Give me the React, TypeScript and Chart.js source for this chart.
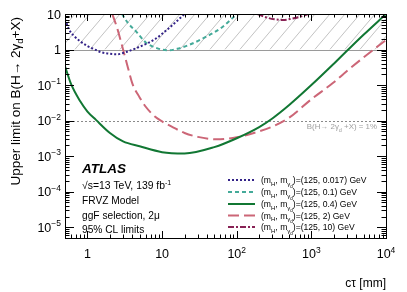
import React, { useEffect, useRef } from "react";
import { Chart, registerables } from "chart.js";

Chart.register(...registerables);

const FONT = '"Liberation Sans", Arial, Helvetica, sans-serif';

// ---- data (cτ in mm, upper limit on B) ----
const ctau017 = [0.5, 0.57, 0.65, 0.8, 1, 1.2, 1.5, 2, 2.5, 3.3, 5, 8, 12, 16, 20];
const limit017 = [7, 3.6, 2.5, 1.7, 1.25, 1.05, 0.85, 0.76, 0.74, 0.85, 1.2, 1.95, 3.8, 6.5, 10];

const ctau01 = [2.9, 3.5, 4.5, 6, 8, 12, 16, 23, 39, 65, 100];
const limit01 = [10, 5.5, 3.2, 1.6, 1.15, 0.95, 1.05, 1.35, 2.3, 4.4, 10];

const ctau04 = [0.5, 0.6, 0.8, 1, 1.3, 2, 3, 5, 10, 20, 50, 100, 200, 300, 500, 1000, 2000, 3000, 5000, 10000];
const limit04 = [0.34, 0.11, 0.035, 0.018, 0.0105, 0.0045, 0.0026, 0.0019, 0.0013, 0.0012, 0.0018, 0.0032, 0.0066, 0.0115, 0.027, 0.1, 0.4, 0.92, 2.6, 10];

const ctau2 = [2.15, 2.5, 3, 3.5, 4, 5, 6, 8, 10, 14, 20, 30, 54, 100, 200, 300, 500, 1000, 2000, 3000, 5000, 10000];
const limit2 = [10, 4, 1, 0.3, 0.11, 0.045, 0.025, 0.013, 0.0095, 0.0065, 0.0045, 0.0035, 0.003, 0.0034, 0.005, 0.0068, 0.012, 0.04, 0.12, 0.25, 0.6, 1.85];

const ctau10 = [190, 250, 320, 420, 550, 700, 900];
const limit10 = [10, 8, 7.1, 6.8, 7.4, 8.3, 10];

const darkPhotonMasses = ["0.017", "0.1", "0.4", "2", "10"];
const seriesColors = ["#332288", "#44AA99", "#117733", "#CC6677", "#882255"];
const seriesDashes: number[][] = [[2, 2], [4, 3], [], [11, 5], [6, 2, 2, 2]];

const xTickValues = [1, 10, 100, 1000, 10000];
const xTickBase = ["1", "10", "10", "10", "10"];
const xTickExp = ["", "", "2", "3", "4"];
const yTickValues = [10, 1, 0.1, 0.01, 0.001, 1e-4, 1e-5];
const yTickBase = ["10", "1", "10", "10", "10", "10", "10"];
const yTickExp = ["", "", "\u22121", "\u22122", "\u22123", "\u22124", "\u22125"];

const xMin = 0.5, xMax = 10000, yMin = 5e-6, yMax = 10;
const hatchLow = 1, hatchHigh = 10, refLine = 0.01;

type Seg = { t: string; s: number; dy?: number; st?: string };
const segFont = (g: Seg) => `${g.st ?? ""} ${g.s}px ${FONT}`;
function richW(ctx: CanvasRenderingContext2D, segs: Seg[]) {
  let w = 0;
  for (const g of segs) { ctx.font = segFont(g); w += ctx.measureText(g.t).width; }
  return w;
}
function drawRich(ctx: CanvasRenderingContext2D, segs: Seg[], x: number, y: number, align = "left") {
  const w = richW(ctx, segs);
  let cx = align === "right" ? x - w : align === "center" ? x - w / 2 : x;
  ctx.textAlign = "left";
  ctx.textBaseline = "alphabetic";
  for (const g of segs) {
    ctx.font = segFont(g);
    ctx.fillText(g.t, cx, y + (g.dy ?? 0));
    cx += ctx.measureText(g.t).width;
  }
}

function minorList(min: number, max: number) {
  const out: { v: number; major: boolean }[] = [];
  for (let e = Math.floor(Math.log10(min)); e <= Math.ceil(Math.log10(max)); e++) {
    for (let m = 1; m <= 9; m++) {
      const v = m * Math.pow(10, e);
      if (v >= min * 0.999 && v <= max * 1.001) out.push({ v, major: m === 1 });
    }
  }
  return out;
}

const overlay = {
  id: "overlay",
  beforeDatasetsDraw(chart: any) {
    const { ctx, chartArea: a, scales } = chart;
    const y = scales.y;
    const yTop = y.getPixelForValue(hatchHigh);
    const yBot = y.getPixelForValue(hatchLow);
    ctx.save();
    ctx.beginPath();
    ctx.rect(a.left, yTop, a.right - a.left, yBot - yTop);
    ctx.clip();
    ctx.strokeStyle = "#a8a8a8";
    ctx.lineWidth = 0.7;
    const h = yBot - yTop;
    const dx = h * 0.85;
    ctx.beginPath();
    for (let x0 = a.left - dx - 5; x0 < a.right + 15; x0 += 15) {
      ctx.moveTo(x0, yBot);
      ctx.lineTo(x0 + dx, yTop);
    }
    ctx.stroke();
    ctx.restore();

    ctx.save();
    ctx.strokeStyle = "#9a9a9a";
    ctx.lineWidth = 1;
    ctx.beginPath();
    ctx.moveTo(a.left, Math.round(yBot) + 0.5);
    ctx.lineTo(a.right, Math.round(yBot) + 0.5);
    ctx.stroke();
    const yr = y.getPixelForValue(refLine);
    ctx.strokeStyle = "#8a8a8a";
    ctx.setLineDash([2, 2]);
    ctx.beginPath();
    ctx.moveTo(a.left, Math.round(yr) + 0.5);
    ctx.lineTo(a.right, Math.round(yr) + 0.5);
    ctx.stroke();
    ctx.restore();
  },
  afterDraw(chart: any) {
    const { ctx, chartArea: a, scales } = chart;
    const x = scales.x, y = scales.y;
    ctx.save();
    // frame
    ctx.strokeStyle = "#000";
    ctx.lineWidth = 1;
    ctx.strokeRect(Math.round(a.left) + 0.5, Math.round(a.top) + 0.5, Math.round(a.right - a.left), Math.round(a.bottom - a.top));
    // ticks
    ctx.beginPath();
    for (const t of minorList(xMin, xMax)) {
      const px = Math.round(x.getPixelForValue(t.v)) + 0.5;
      const len = t.major ? 7 : 3.5;
      ctx.moveTo(px, a.bottom); ctx.lineTo(px, a.bottom - len);
      ctx.moveTo(px, a.top); ctx.lineTo(px, a.top + len);
    }
    for (const t of minorList(yMin, yMax)) {
      const py = Math.round(y.getPixelForValue(t.v)) + 0.5;
      const len = t.major ? 9 : 4.5;
      ctx.moveTo(a.left, py); ctx.lineTo(a.left + len, py);
      ctx.moveTo(a.right, py); ctx.lineTo(a.right - len, py);
    }
    ctx.stroke();

    // tick labels
    ctx.fillStyle = "#000";
    xTickValues.forEach((v, i) => {
      const px = x.getPixelForValue(v);
      const segs: Seg[] = [{ t: xTickBase[i], s: 12.5 }];
      if (xTickExp[i]) segs.push({ t: xTickExp[i], s: 8.5, dy: -5.5 });
      drawRich(ctx, segs, px, 258, "center");
    });
    yTickValues.forEach((v, i) => {
      const py = y.getPixelForValue(v);
      const segs: Seg[] = [{ t: yTickBase[i], s: 12.5 }];
      if (yTickExp[i]) segs.push({ t: yTickExp[i], s: 8.5, dy: -5.5 });
      drawRich(ctx, segs, 61, py + 4.5, "right");
    });

    // axis titles
    drawRich(ctx, [{ t: "c\u03c4 [mm]", s: 12 }], a.right, 287, "right");
    ctx.save();
    ctx.translate(20, 17);
    ctx.rotate(-Math.PI / 2);
    drawRich(ctx, [
      { t: "Upper limit on B(H\u2192 2\u03b3", s: 13.5 },
      { t: "d", s: 9.5, dy: 3 },
      { t: "+X)", s: 13.5 },
    ], 0, 0, "right");
    ctx.restore();

    // ATLAS block
    drawRich(ctx, [{ t: "ATLAS", s: 13.5, st: "italic bold" }], 82, 173);
    drawRich(ctx, [
      { t: "\u221as=13 TeV, 139 fb", s: 10.4 },
      { t: "-1", s: 7, dy: -4 },
    ], 82, 189);
    drawRich(ctx, [{ t: "FRVZ Model", s: 10.2 }], 82, 204);
    drawRich(ctx, [{ t: "ggF selection, 2\u03bc", s: 10.2 }], 82, 218.5);
    drawRich(ctx, [{ t: "95% CL limits", s: 10.2 }], 82, 233);

    // reference label
    ctx.fillStyle = "#a0a0a0";
    drawRich(ctx, [
      { t: "B(H\u2192 2\u03b3", s: 7.9 },
      { t: "d", s: 5.5, dy: 2.5 },
      { t: " +X) = 1%", s: 7.9 },
    ], 377, 129, "right");

    // legend
    const rows = [180, 192, 204, 215.5, 227];
    darkPhotonMasses.forEach((m, i) => {
      const ry = rows[i];
      ctx.strokeStyle = seriesColors[i];
      ctx.lineWidth = 2;
      ctx.setLineDash(seriesDashes[i]);
      ctx.beginPath();
      ctx.moveTo(228, ry);
      ctx.lineTo(255, ry);
      ctx.stroke();
      ctx.setLineDash([]);
      ctx.fillStyle = "#000";
      const s = 8.6;
      drawRich(ctx, [
        { t: "(m", s },
        { t: "H", s: 6, dy: 2.5 },
        { t: ", m", s },
        { t: "\u03b3", s: 6, dy: 2.5 },
        { t: "d", s: 4.5, dy: 4.5 },
        { t: `)=(125, ${m}) GeV`, s },
      ], 261, ry + 3);
    });
    ctx.restore();
  },
};

const pts = (xs: number[], ys: number[]) => xs.map((v, i) => ({ x: v, y: ys[i] }));

export default function App() {
  const ref = useRef<HTMLCanvasElement | null>(null);
  useEffect(() => {
    if (!ref.current) return;
    const series = [
      pts(ctau017, limit017),
      pts(ctau01, limit01),
      pts(ctau04, limit04),
      pts(ctau2, limit2),
      pts(ctau10, limit10),
    ];
    const chart = new Chart(ref.current, {
      type: "line",
      data: {
        datasets: series.map((d, i) => ({
          label: darkPhotonMasses[i],
          data: d,
          borderColor: seriesColors[i],
          borderDash: seriesDashes[i],
          borderWidth: 2,
          pointRadius: 0,
          fill: false,
          cubicInterpolationMode: "monotone" as const,
        })),
      },
      options: {
        responsive: false,
        animation: false,
        events: [],
        layout: { padding: { left: 0, right: 21, top: 14, bottom: 0 } },
        plugins: { legend: { display: false }, tooltip: { enabled: false } },
        scales: {
          x: {
            type: "logarithmic",
            min: xMin,
            max: xMax,
            grid: { display: false },
            border: { display: false },
            ticks: { display: false },
            afterFit: (s: any) => { s.height = 54; },
          },
          y: {
            type: "logarithmic",
            min: yMin,
            max: yMax,
            grid: { display: false },
            border: { display: false },
            ticks: { display: false },
            afterFit: (s: any) => { s.width = 65; },
          },
        },
      },
      plugins: [overlay],
    } as any);
    return () => chart.destroy();
  }, []);
  return (
    <div style={{ position: "fixed", left: 0, top: 0, width: 407, height: 292, background: "#fff" }}>
      <canvas ref={ref} width={407} height={292} style={{ display: "block", width: 407, height: 292 }} />
    </div>
  );
}
